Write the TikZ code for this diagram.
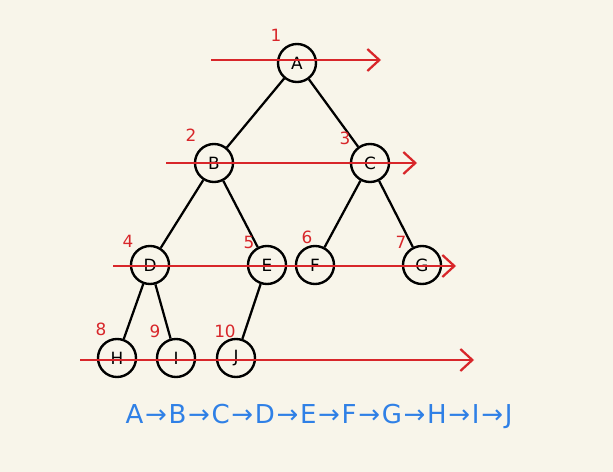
\documentclass[tikz,border=0pt]{standalone}
\usepackage{fontspec}
\setmainfont{DejaVu Sans}
\usetikzlibrary{arrows.meta,positioning}
\definecolor{paper}{HTML}{F8F5EA}
\definecolor{pen}{HTML}{D8262A}
\definecolor{ink}{HTML}{2F80E6}

\begin{document}
\begin{tikzpicture}[
  x=0.025cm, y=-0.025cm,
  treenode/.style={draw=black, circle, line width=1.7pt, minimum size=0.95cm,
    inner sep=0pt, font=\large},
  treeedge/.style={line width=1.6pt, black},
  levelarrow/.style={-{Straight Barb[length=3mm,width=5.5mm]}, line width=1.6pt, pen},
  ordernum/.style={text=pen, font=\large},
  result/.style={text=ink, font=\fontsize{18.5}{22}\selectfont}
]
\fill[paper] (0,0) rectangle (613,472);
\useasboundingbox (0,0) rectangle (613,472);

% ---------------- tree ----------------
\node[treenode] (A) at (297,63) {A};
\node[treenode] (B) at (214,163) {B};
\node[treenode] (C) at (370,163) {C};
\node[treenode] (D) at (150,265) {D};
\node[treenode] (E) at (267,265) {E};
\node[treenode] (F) at (315,265) {F};
\node[treenode] (G) at (422,265) {G};
\node[treenode] (H) at (117,358) {H};
\node[treenode] (I) at (176,358) {I};
\node[treenode] (J) at (236,358) {J};
\draw[treeedge] (A) -- (B);
\draw[treeedge] (A) -- (C);
\draw[treeedge] (B) -- (D);
\draw[treeedge] (B) -- (E);
\draw[treeedge] (C) -- (F);
\draw[treeedge] (C) -- (G);
\draw[treeedge] (D) -- (H);
\draw[treeedge] (D) -- (I);
\draw[treeedge] (E) -- (J);

% ---------------- visiting order ----------------
\node[ordernum] (n1) at (276,35) {1};
\node[ordernum] (n2) at (191,135) {2};
\node[ordernum] (n3) at (345,138) {3};
\node[ordernum] (n4) at (128,241) {4};
\node[ordernum] (n5) at (249,242) {5};
\node[ordernum] (n6) at (307,237) {6};
\node[ordernum] (n7) at (401,242) {7};
\node[ordernum] (n8) at (101,329) {8};
\node[ordernum] (n9) at (155,331) {9};
\node[ordernum] (n10) at (225,331) {10};

% ---------------- level sweeps ----------------
\coordinate (s1) at (211,60);  \coordinate (e1) at (381,60);
\coordinate (s2) at (166,163); \coordinate (e2) at (417,163);
\coordinate (s3) at (113,266); \coordinate (e3) at (456,266);
\coordinate (s4) at (80,360);  \coordinate (e4) at (474,360);
\draw[levelarrow] (s1) -- (e1);
\draw[levelarrow] (s2) -- (e2);
\draw[levelarrow] (s3) -- (e3);
\draw[levelarrow] (s4) -- (e4);

\node[result] (order) at (319,416) {A\kern1.2pt→\kern1.2pt B\kern1.2pt→\kern1.2pt C\kern1.2pt→\kern1.2pt D\kern1.2pt→\kern1.2pt E\kern1.2pt→\kern1.2pt F\kern1.2pt→\kern1.2pt G\kern1.2pt→\kern1.2pt H\kern1.2pt→\kern1.2pt I\kern1.2pt→\kern1.2pt J};
\end{tikzpicture}
\end{document}
